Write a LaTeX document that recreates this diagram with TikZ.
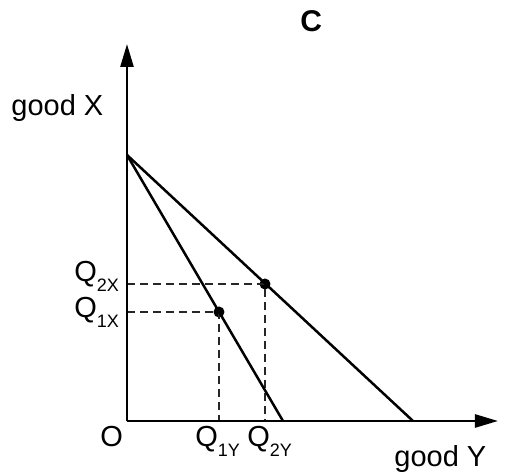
\documentclass[tikz,border=0pt]{standalone}
\usepackage{fontspec}
\setmainfont{Liberation Sans}
\usetikzlibrary{arrows.meta}
\tikzset{
  axis/.style={line width=1.25pt,-{Triangle[length=11.5pt,width=6.5pt]}},
  budget/.style={line width=1.25pt},
  guide/.style={line width=0.6pt,dash pattern=on 4pt off 2.5pt,black!85},
  dot/.style={circle,fill=black,inner sep=0pt,minimum size=5.5pt},
  lbl/.style={inner sep=0pt,anchor=base west,font=\fontsize{14.5}{16}\selectfont},
}
\newcommand{\qsub}[1]{Q\raisebox{-0.6ex}{\fontsize{9}{10}\selectfont #1}}
\begin{document}
\begin{tikzpicture}[x=0.5pt,y=-0.5pt]
\useasboundingbox (0,0) rectangle (505,475);
\coordinate (O) at (127,421);
\coordinate (ytip) at (127,44);
\coordinate (xtip) at (498,421);
\coordinate (A) at (127,155);
\coordinate (B1) at (283,421);
\coordinate (B2) at (413,421);
\node[dot] (P1) at (219,312) {};
\node[dot] (P2) at (265,284) {};
\coordinate (P1x) at (127,312);
\coordinate (P2x) at (127,284);
\coordinate (P1y) at (219,421);
\coordinate (P2y) at (265,421);
\draw[guide] (P2x) -- (P2.center) -- (P2y);
\draw[guide] (P1x) -- (P1.center) -- (P1y);
\draw[budget] (A) -- (B1);
\draw[budget] (A) -- (B2);
\draw[axis] (O) -- (ytip);
\draw[axis] (O) -- (xtip);
\node[lbl,font=\fontsize{15}{16}\selectfont\bfseries] (c) at (300,32) {C};
\node[lbl] (gx) at (11,116) {good X};
\node[lbl] (q2x) at (74,282) {\qsub{2X}};
\node[lbl] (q1x) at (74,318) {\qsub{1X}};
\node[lbl] (o) at (100,447) {O};
\node[lbl] (q1y) at (195,447) {\qsub{1Y}};
\node[lbl] (q2y) at (247,447) {\qsub{2Y}};
\node[lbl] (gy) at (394,467) {good Y};
\end{tikzpicture}
\end{document}
